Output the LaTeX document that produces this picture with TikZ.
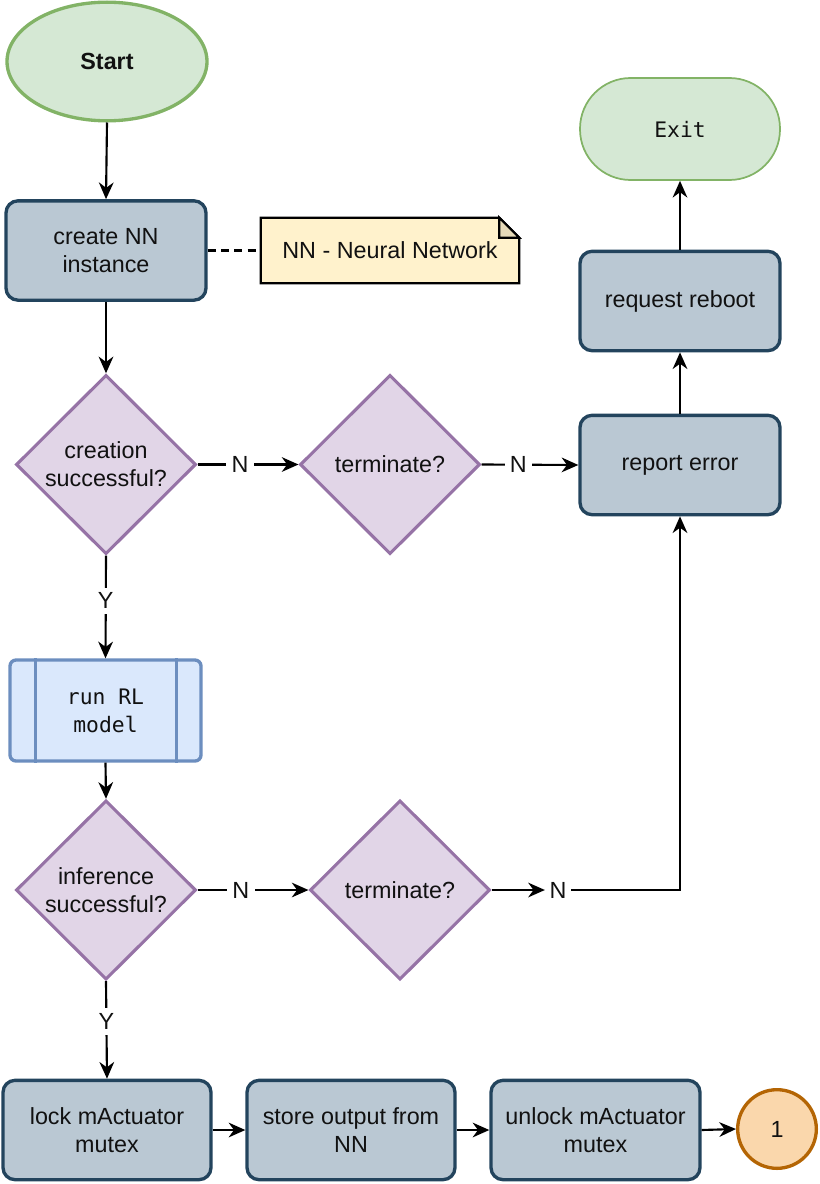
\documentclass[tikz,border=0pt]{standalone}
\usepackage{fontspec}
\setmainfont{Liberation Sans}
\setmonofont{DejaVu Sans Mono}
\usetikzlibrary{shapes.geometric,arrows.meta,backgrounds}
\definecolor{greenfill}{HTML}{D5E8D4}
\definecolor{greenline}{HTML}{82B366}
\definecolor{procfill}{HTML}{BAC8D3}
\definecolor{procline}{HTML}{23445D}
\definecolor{decfill}{HTML}{E1D5E7}
\definecolor{decline}{HTML}{9673A6}
\definecolor{bluefill}{HTML}{DAE8FC}
\definecolor{blueline}{HTML}{6C8EBF}
\definecolor{notefill}{HTML}{FFF2CC}
\definecolor{notefold}{HTML}{E6DAB8}
\definecolor{orangefill}{HTML}{FAD7AC}
\definecolor{orangeline}{HTML}{B46504}
\definecolor{txt}{HTML}{111111}
\begin{document}
\begin{tikzpicture}[x=0.75pt,y=-0.75pt,
  font=\fontsize{17.5}{21}\selectfont, text=txt,
  proc/.style={rectangle, rounded corners=9pt, fill=procfill, draw=procline,
    line width=2.5pt, minimum width=150pt, minimum height=74.5pt,
    align=center, inner sep=0pt},
  dec/.style={diamond, fill=decfill, draw=decline, line width=2.3pt,
    minimum width=135pt, minimum height=134.5pt, inner sep=0pt, align=center},
  arr/.style={line width=1.6pt, draw=black, -{Stealth[length=12.5pt,width=11pt,inset=4pt]}},
  lbl/.style={fill=white, inner sep=4pt, text=txt}
]
\useasboundingbox (0,0) rectangle (820,1184);

% nodes
\node[ellipse, fill=greenfill, draw=greenline, line width=2.5pt,
  minimum width=150pt, minimum height=89pt, inner sep=0pt,
  font=\fontsize{17.5}{21}\selectfont\bfseries] (start) at (107,61.5) {Start};
\node[proc] (create) at (106,250.5) {create NN\\instance};
\node[minimum width=193.5pt, minimum height=48.75pt, inner sep=0pt] (note) at (390,250.5) {NN - Neural Network};
\node[dec] (d1) at (106,464.5) {creation\\successful?};
\node[dec] (t1) at (390,464.5) {terminate?};
\node[proc] (report) at (680,465) {report error};
\node[proc] (reboot) at (680,301) {request reboot};
\node[rectangle, rounded corners=38pt, fill=greenfill, draw=greenline, line width=1.3pt,
  minimum width=150pt, minimum height=76.5pt, inner sep=0pt,
  font=\fontsize{16}{21}\selectfont\ttfamily] (exit) at (680,129) {Exit};
\node[rectangle, rounded corners=4.5pt, fill=bluefill, draw=blueline, line width=2.5pt,
  minimum width=143.25pt, minimum height=75.75pt, inner sep=0pt, align=center,
  font=\fontsize{16}{21}\selectfont\ttfamily] (run) at (105.5,710.5) {run RL\\model};
\draw[blueline, line width=2.5pt] ([xshift=20.25pt]run.north west) -- ([xshift=20.25pt]run.south west);
\draw[blueline, line width=2.5pt] ([xshift=-19.5pt]run.north east) -- ([xshift=-19.5pt]run.south east);
\node[dec] (d2) at (106,890) {inference\\successful?};
\node[dec] (t2) at (400,890) {terminate?};
\node (nl) at (558,890) {N};
\node[proc, minimum width=156pt] (lock) at (107,1130) {lock mActuator\\mutex};
\node[proc, minimum width=156pt] (store) at (351,1130) {store output from\\NN};
\node[proc, minimum width=156.75pt] (unlock) at (595.5,1130) {unlock mActuator\\mutex};
\node[circle, fill=orangefill, draw=orangeline, line width=2.5pt,
  minimum size=59pt, inner sep=0pt] (c1) at (777,1129) {1};

% note shape
\begin{scope}[on background layer]
\filldraw[fill=notefill, draw=black, line width=1.6pt, line join=miter]
  (note.north west) -- ([xshift=-15pt]note.north east) -- ([yshift=-15pt]note.north east)
  -- (note.south east) -- (note.south west) -- cycle;
\filldraw[fill=notefold, draw=black, line width=1.6pt, line join=miter]
  ([xshift=-15pt]note.north east) -- ([xshift=-15pt,yshift=-15pt]note.north east)
  -- ([yshift=-15pt]note.north east) -- cycle;
\end{scope}

% connectors
\draw[arr] (start.south) -- (create.north);
\draw[line width=1.6pt, dash pattern=on 6pt off 4pt] (create.east) -- (note.west);
\draw[arr] (create.south) -- (d1.north);
\draw[arr] (d1.east) -- node[lbl, pos=0.42] {N} (t1.west);
\draw[arr] (t1.east) -- node[lbl, pos=0.38] {N} (report.west);
\draw[arr] (report.north) -- (reboot.south);
\draw[arr] (reboot.north) -- (exit.south);
\draw[arr] (d1.south) -- node[lbl, pos=0.44] {Y} (run.north);
\draw[arr] (run.south) -- (d2.north);
\draw[arr] (d2.east) -- node[lbl, pos=0.39] {N} (t2.west);
\draw[arr] (t2.east) -- (nl.west);
\draw[arr] (nl.east) -| (report.south);
\draw[arr] (d2.south) -- node[lbl, pos=0.41] {Y} (lock.north);
\draw[arr] (lock.east) -- (store.west);
\draw[arr] (store.east) -- (unlock.west);
\draw[arr] (unlock.east) -- (c1.west);
\end{tikzpicture}
\end{document}
